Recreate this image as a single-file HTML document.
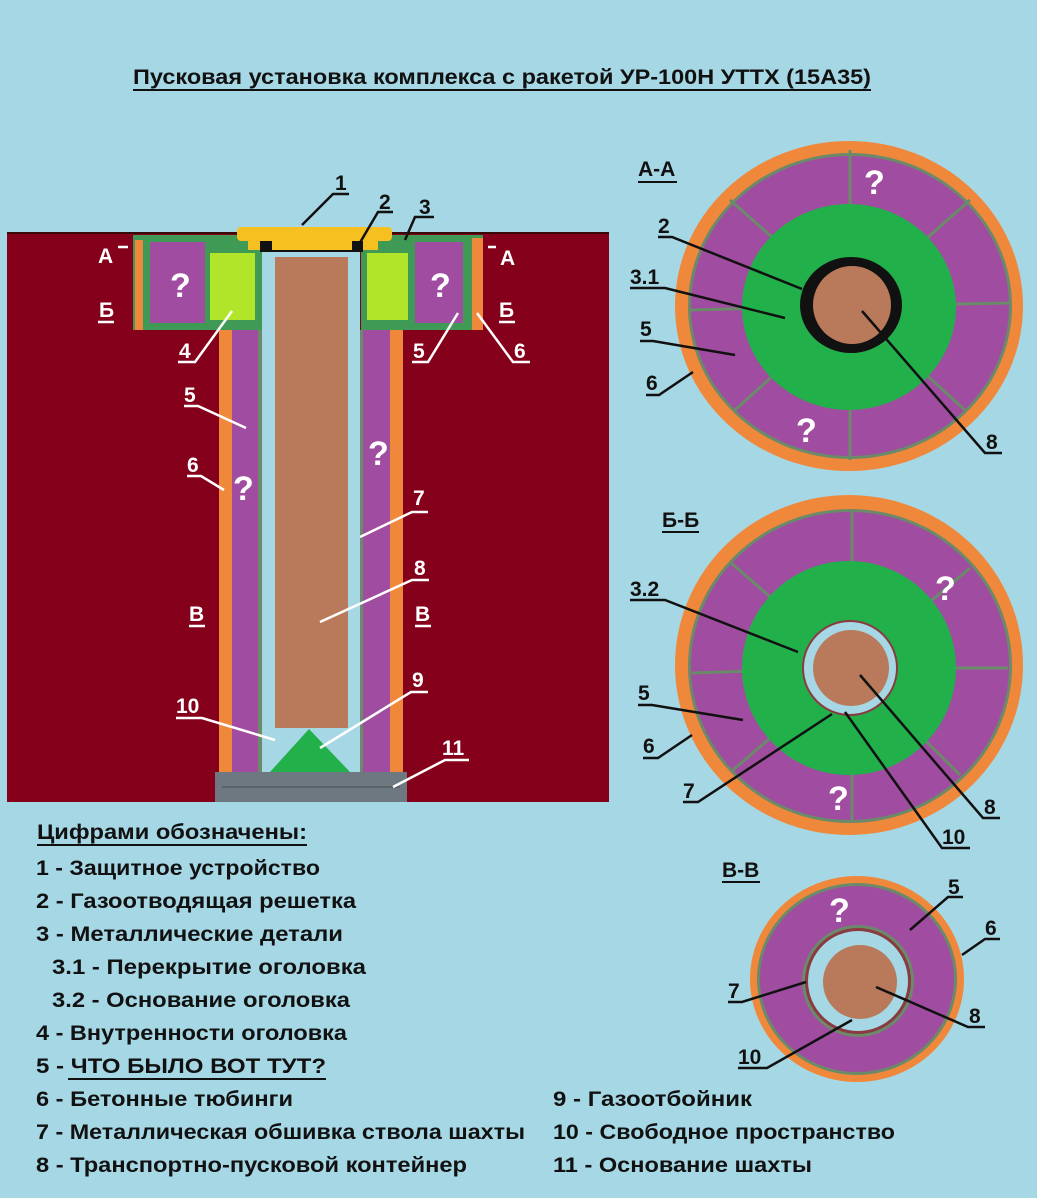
<!DOCTYPE html>
<html><head><meta charset="utf-8"><style>
html,body{margin:0;padding:0;background:#a6d7e5;}
svg{display:block}
text{font-family:"Liberation Sans","DejaVu Sans",sans-serif;font-weight:bold;fill:#111;}
.w{fill:#fff}
.lt{font-size:20px}
</style></head><body>
<svg width="1037" height="1198" viewBox="0 0 1037 1198" xmlns="http://www.w3.org/2000/svg">
<rect width="1037" height="1198" fill="#a6d7e5"/>
<!-- title -->
<text x="133" y="84" font-size="21" textLength="738" lengthAdjust="spacingAndGlyphs">Пусковая установка комплекса с ракетой УР-100Н УТТХ (15А35)</text>
<line x1="133" y1="90" x2="871" y2="90" stroke="#111" stroke-width="2"/>

<!-- ground -->
<rect x="7" y="232" width="602" height="570" fill="#85001a"/>
<line x1="7" y1="233" x2="609" y2="233" stroke="#3a0a0a" stroke-width="2"/>
<!-- shaft column -->
<rect x="219" y="330" width="184" height="442" fill="#f0883c"/>
<rect x="232" y="330" width="158" height="442" fill="#a04ca0"/>
<rect x="258" y="330" width="105" height="442" fill="#6a8a6a"/>
<rect x="262" y="250" width="98" height="522" fill="#a6d7e5"/>
<rect x="275" y="257" width="73" height="471" fill="#b87a5a"/>
<polygon points="309,729 270,772 350,772" fill="#22b04a"/>
<rect x="215" y="772" width="192" height="30" fill="#6e7880"/>
<line x1="222" y1="787" x2="400" y2="787" stroke="#59636a" stroke-width="2"/>
<!-- head left -->
<rect x="133" y="235" width="129" height="95" fill="#3f9a55"/>
<rect x="135" y="240" width="8" height="90" fill="#f0883c"/>
<rect x="150" y="242" width="55" height="81" fill="#a04ca0"/>
<rect x="210" y="253" width="45" height="67" fill="#b0e52a"/>
<!-- head right -->
<rect x="361" y="235" width="122" height="95" fill="#3f9a55"/>
<rect x="472" y="238" width="11" height="92" fill="#f0883c"/>
<rect x="415" y="242" width="48" height="81" fill="#a04ca0"/>
<rect x="367" y="253" width="41" height="67" fill="#b0e52a"/>
<!-- cover -->
<rect x="237" y="227" width="155" height="14" rx="4" fill="#f5c020"/>
<rect x="248" y="235" width="130" height="15" fill="#f5c020"/>
<rect x="260" y="241" width="12" height="11" fill="#111"/>
<rect x="352" y="241" width="11" height="11" fill="#111"/>
<line x1="260" y1="251" x2="363" y2="251" stroke="#111" stroke-width="2"/>

<!-- left labels -->
<g font-size="21">
<text x="335" y="190">1</text><text x="379" y="209">2</text><text x="419" y="214">3</text>
<text x="179" y="358" class="w">4</text><text x="413" y="358" class="w">5</text><text x="514" y="358" class="w">6</text>
<text x="98" y="263" class="w">А</text><text x="500" y="265" class="w">А</text>
<text x="99" y="317" class="w">Б</text><text x="499" y="317" class="w">Б</text>
<text x="184" y="402" class="w">5</text><text x="187" y="472" class="w">6</text>
<text x="413" y="505" class="w">7</text><text x="414" y="575" class="w">8</text>
<text x="189" y="621" class="w">В</text><text x="415" y="621" class="w">В</text>
<text x="412" y="687" class="w">9</text><text x="176" y="713" class="w">10</text><text x="442" y="755" class="w">11</text>
</g>
<g font-size="34" class="w"><text x="170" y="297" class="w">?</text><text x="430" y="297" class="w">?</text><text x="233" y="500" class="w">?</text><text x="368" y="465" class="w">?</text></g>
<g stroke="#111" stroke-width="2.5" fill="none">
<polyline points="349,194 333,194 302,225"/>
<polyline points="393,212 378,212 358,246"/>
<polyline points="434,217 415,217 405,240"/>
</g>
<g stroke="#fff" stroke-width="2.5" fill="none">
<polyline points="178,362 195,362 232,311"/>
<polyline points="412,362 428,362 458,313"/>
<polyline points="530,362 513,362 477,313"/>
<line x1="118" y1="247" x2="128" y2="247"/><line x1="488" y1="247" x2="496" y2="247"/>
<line x1="98" y1="322" x2="114" y2="322"/><line x1="499" y1="322" x2="515" y2="322"/>
<polyline points="184,406 198,406 246,428"/>
<polyline points="187,476 201,476 224,490"/>
<polyline points="428,512 412,512 360,537"/>
<polyline points="429,580 412,580 320,622"/>
<line x1="189" y1="626" x2="205" y2="626"/><line x1="415" y1="626" x2="431" y2="626"/>
<polyline points="428,692 411,692 320,748"/>
<polyline points="176,718 202,718 275,740"/>
<polyline points="469,760 445,760 393,787"/>
</g>

<!-- A-A -->
<text x="638" y="176" font-size="21">А-А</text><line x1="638" y1="182" x2="677" y2="182" stroke="#111" stroke-width="2"/>
<ellipse cx="849" cy="306" rx="174" ry="165" fill="#f0883c"/>
<ellipse cx="850" cy="306" rx="162" ry="153" fill="#6a8a6a"/>
<ellipse cx="850" cy="306" rx="159" ry="150" fill="#a04ca0"/>
<g stroke="#6a8a6a" stroke-width="3">
<line x1="850" y1="306" x2="850" y2="150"/><line x1="850" y1="306" x2="850" y2="460"/>
<line x1="850" y1="306" x2="1010" y2="303"/><line x1="850" y1="306" x2="690" y2="310"/>
<line x1="850" y1="306" x2="970" y2="200"/><line x1="850" y1="306" x2="730" y2="200"/>
<line x1="850" y1="306" x2="735" y2="410"/><line x1="850" y1="306" x2="965" y2="410"/>
</g>
<ellipse cx="849" cy="307" rx="107" ry="103" fill="#22b04a"/>
<ellipse cx="851" cy="305" rx="51" ry="48" fill="#111"/>
<circle cx="852" cy="305" r="39" fill="#b87a5a"/>
<text x="864" y="194" font-size="34" class="w">?</text><text x="796" y="442" font-size="34" class="w">?</text>

<!-- Б-Б -->
<text x="662" y="527" font-size="21">Б-Б</text><line x1="662" y1="532" x2="699" y2="532" stroke="#111" stroke-width="2"/>
<ellipse cx="849" cy="665" rx="174" ry="170" fill="#f0883c"/>
<ellipse cx="850" cy="666" rx="162" ry="157" fill="#6a8a6a"/>
<ellipse cx="850" cy="666" rx="159" ry="154" fill="#a04ca0"/>
<g stroke="#6a8a6a" stroke-width="3">
<line x1="852" y1="668" x2="852" y2="510"/><line x1="852" y1="668" x2="852" y2="822"/>
<line x1="852" y1="668" x2="1008" y2="668"/><line x1="852" y1="668" x2="692" y2="673"/>
<line x1="852" y1="668" x2="970" y2="568"/><line x1="852" y1="668" x2="730" y2="562"/>
<line x1="852" y1="668" x2="733" y2="770"/><line x1="852" y1="668" x2="960" y2="775"/>
</g>
<circle cx="849" cy="668" r="107" fill="#22b04a"/>
<circle cx="850" cy="668" r="48" fill="#8a3a40"/>
<circle cx="850" cy="668" r="46" fill="#a6d7e5"/>
<circle cx="851" cy="668" r="38" fill="#b87a5a"/>
<text x="935" y="600" font-size="34" class="w">?</text><text x="828" y="810" font-size="34" class="w">?</text>

<!-- В-В -->
<text x="722" y="877" font-size="21">В-В</text><line x1="722" y1="882" x2="760" y2="882" stroke="#111" stroke-width="2"/>
<ellipse cx="857" cy="979" rx="107" ry="103" fill="#f0883c"/>
<ellipse cx="857" cy="979" rx="100" ry="96" fill="#6a8a6a"/>
<ellipse cx="857" cy="979" rx="97" ry="93" fill="#a04ca0"/>
<circle cx="858" cy="981" r="56" fill="#6a8a6a"/>
<circle cx="858" cy="981" r="53" fill="#8a3a40"/>
<circle cx="858" cy="981" r="50" fill="#a6d7e5"/>
<circle cx="860" cy="982" r="37" fill="#b87a5a"/>
<text x="829" y="922" font-size="34" class="w">?</text>

<!-- circle labels -->
<g font-size="21">
<text x="658" y="233">2</text><text x="630" y="284">3.1</text><text x="640" y="336">5</text><text x="646" y="390">6</text><text x="986" y="449">8</text>
<text x="630" y="596">3.2</text><text x="638" y="700">5</text><text x="643" y="753">6</text><text x="683" y="798">7</text><text x="942" y="844">10</text><text x="984" y="814">8</text>
<text x="948" y="894">5</text><text x="985" y="935">6</text><text x="728" y="998">7</text><text x="969" y="1023">8</text><text x="738" y="1064">10</text>
</g>
<g stroke="#111" stroke-width="2.5" fill="none">
<polyline points="658,237 672,237 802,289"/>
<polyline points="630,288 665,288 785,318"/>
<polyline points="640,341 653,341 735,355"/>
<polyline points="646,395 659,395 693,372"/>
<polyline points="1002,453 985,453 862,311"/>
<polyline points="630,600 665,600 798,652"/>
<polyline points="638,705 652,705 743,720"/>
<polyline points="643,758 658,758 692,735"/>
<polyline points="683,802 698,802 832,714"/>
<polyline points="970,848 942,848 845,712"/>
<polyline points="1000,818 983,818 860,675"/>
<polyline points="963,897 948,897 910,930"/>
<polyline points="1000,939 985,939 962,955"/>
<polyline points="728,1002 742,1002 806,982"/>
<polyline points="985,1027 968,1027 876,987"/>
<polyline points="738,1068 767,1068 852,1020"/>
</g>

<!-- legend -->
<g font-size="21">
<text x="37" y="839" textLength="270" lengthAdjust="spacingAndGlyphs">Цифрами обозначены:</text>
<text x="36" y="875" textLength="284" lengthAdjust="spacingAndGlyphs">1 - Защитное устройство</text>
<text x="36" y="908" textLength="320" lengthAdjust="spacingAndGlyphs">2 - Газоотводящая решетка</text>
<text x="36" y="941" textLength="307" lengthAdjust="spacingAndGlyphs">3 - Металлические детали</text>
<text x="52" y="974" textLength="314" lengthAdjust="spacingAndGlyphs">3.1 - Перекрытие оголовка</text>
<text x="52" y="1007" textLength="298" lengthAdjust="spacingAndGlyphs">3.2 - Основание оголовка</text>
<text x="36" y="1040" textLength="311" lengthAdjust="spacingAndGlyphs">4 - Внутренности оголовка</text>
<text x="36" y="1073" textLength="290" lengthAdjust="spacingAndGlyphs">5 - ЧТО БЫЛО ВОТ ТУТ?</text>
<text x="36" y="1106" textLength="257" lengthAdjust="spacingAndGlyphs">6 - Бетонные тюбинги</text>
<text x="36" y="1139" textLength="489" lengthAdjust="spacingAndGlyphs">7 - Металлическая обшивка ствола шахты</text>
<text x="36" y="1172" textLength="431" lengthAdjust="spacingAndGlyphs">8 - Транспортно-пусковой контейнер</text>
<text x="553" y="1106" textLength="199" lengthAdjust="spacingAndGlyphs">9 - Газоотбойник</text>
<text x="553" y="1139" textLength="342" lengthAdjust="spacingAndGlyphs">10 - Свободное пространство</text>
<text x="553" y="1172" textLength="259" lengthAdjust="spacingAndGlyphs">11 - Основание шахты</text>
</g>
<line x1="37" y1="845" x2="307" y2="845" stroke="#111" stroke-width="2"/>
<line x1="68" y1="1079" x2="326" y2="1079" stroke="#111" stroke-width="2"/>
</svg>
</body></html>
